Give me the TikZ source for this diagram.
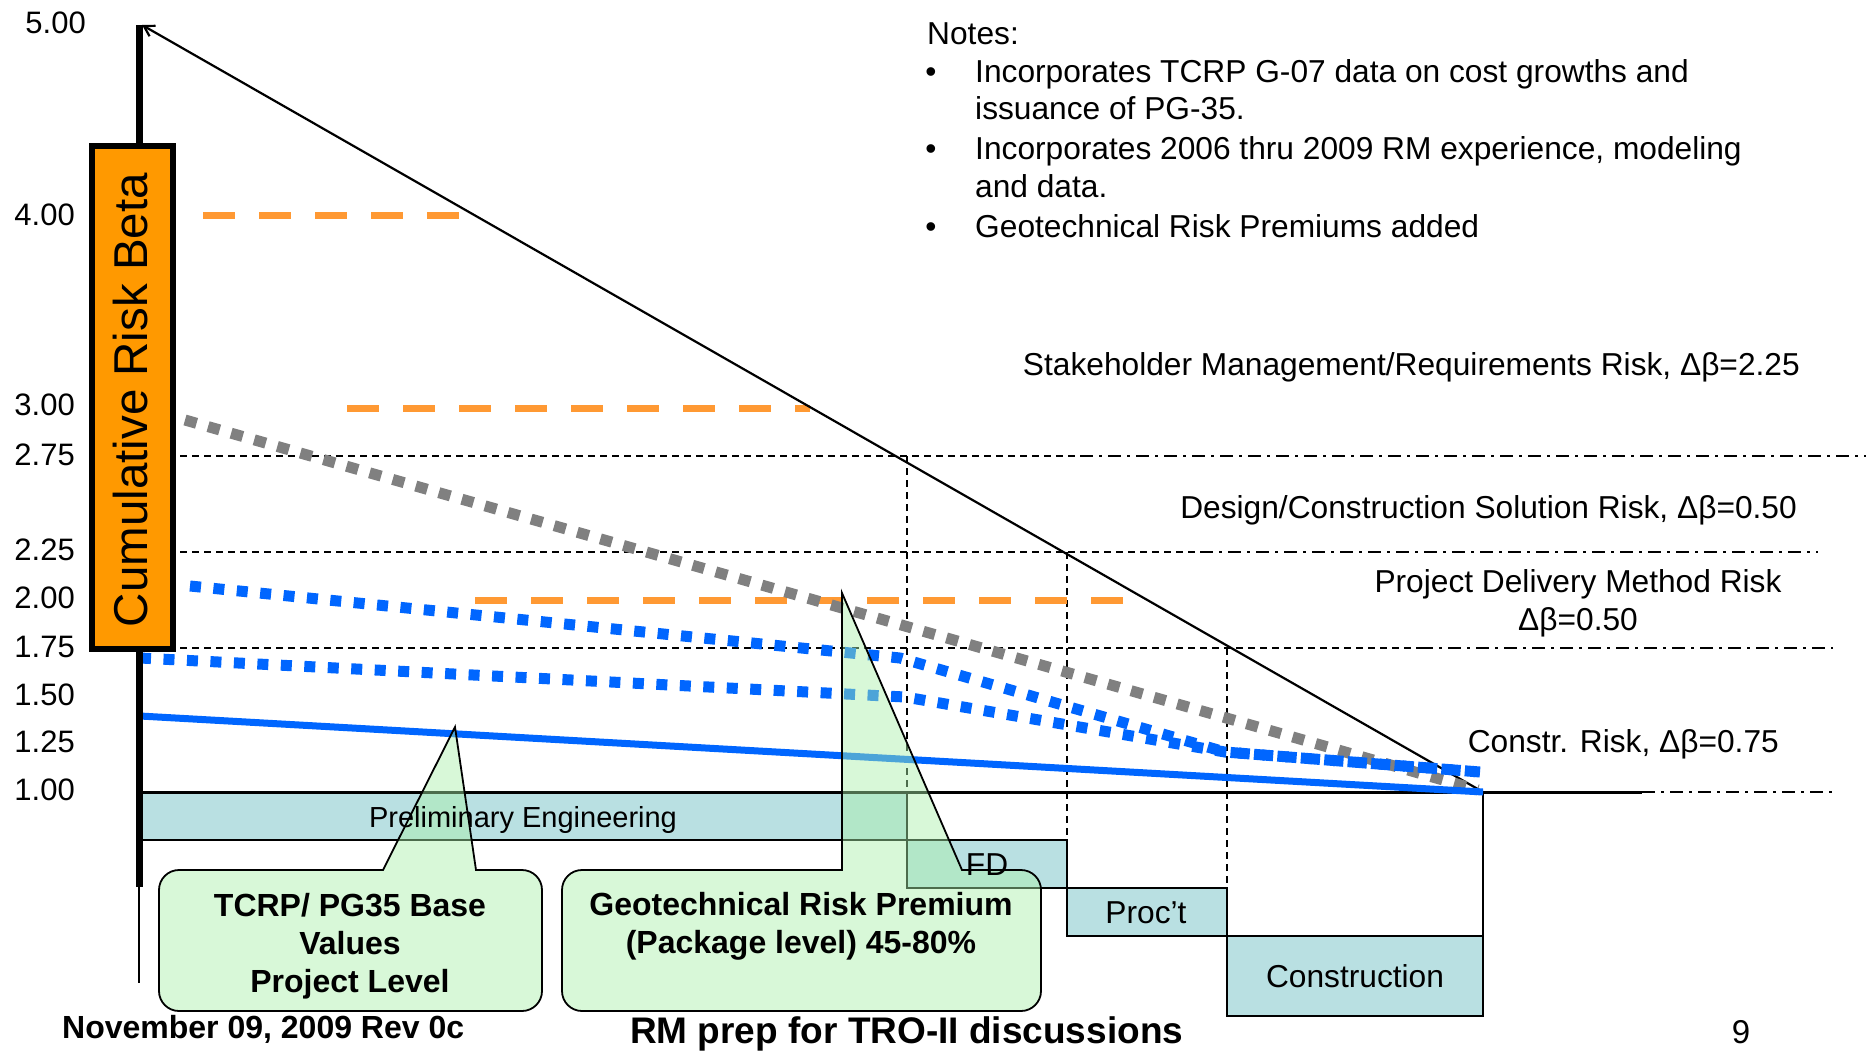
\documentclass[tikz,border=0pt]{standalone}
\usepackage{fontspec}
\setmainfont{Liberation Sans}
\usetikzlibrary{arrows.meta}
\definecolor{obox}{RGB}{255,153,0}
\definecolor{odash}{RGB}{255,153,51}
\definecolor{bline}{RGB}{0,102,255}
\definecolor{gline}{RGB}{128,128,128}
\definecolor{barfill}{RGB}{185,224,226}
\definecolor{callg}{RGB}{170,240,170}
\begin{document}
\begin{tikzpicture}[x=1pt,y=-1pt,
  tick/.style={font=\fontsize{31}{37}\selectfont, anchor=east, inner sep=0pt},
  txt/.style={font=\fontsize{31.7}{38}\selectfont, inner sep=0pt},
  btxt/.style={font=\bfseries\fontsize{32}{38}\selectfont, inner sep=0pt},
  refdash/.style={line width=1.6, dash pattern=on 7 off 5},
  refdashdot/.style={line width=1.6, dash pattern=on 13 off 6 on 3 off 6},
  odashed/.style={odash, line width=7, dash pattern=on 32 off 24},
  bdots/.style={bline, line width=11, dash pattern=on 11 off 12.5},
  gdots/.style={gline, line width=11, dash pattern=on 12 off 12},
  barbox/.style={fill=barfill, draw=black, line width=2.5},
  callout/.style={fill=callg, fill opacity=0.45, draw=black, line width=1.8}]
\useasboundingbox (0,0) rectangle (1876,1051);
\fill[white] (0,0) rectangle (1876,1051);

% key coordinates
\coordinate (top) at (142,25);
\coordinate (apex) at (1483,792);

% reference lines
\draw[refdash] (180,456) -- (1080,456);
\draw[refdashdot] (1080,456) -- (1866,456);
\draw[refdash] (180,552) -- (1200,552);
\draw[refdashdot] (1200,552) -- (1818,552);
\draw[refdash] (180,648) -- (1420,648);
\draw[refdashdot] (1420,648) -- (1833,648);
\draw[refdash] (907,456) -- (907,792);
\draw[refdash] (1067,552) -- (1067,840);
\draw[refdash] (1227,648) -- (1227,888);

% orange dashed levels
\draw[odashed] (203,216) -- (459,216);
\draw[odashed] (347,408) -- (810,408);
\draw[odashed] (475,600) -- (1123,600);

% phase bars
\draw[barbox] (139,792) rectangle (907,840);
\draw[barbox] (907,840) rectangle (1067,888);
\draw[barbox] (1067,888) rectangle (1227,936);
\draw[barbox] (1227,936) rectangle (1483,1016);
\draw[line width=2.5] (1483,792) -- (1483,936);

% baseline 1.00
\draw[line width=3] (139,792) -- (1642,792);
\draw[refdashdot] (1642,792) -- (1835,792);

% risk envelope
\draw[line width=2.2, -{Straight Barb[length=10,width=12]}] (apex) -- (top);

% curves
\draw[gdots] (185,420) -- (1478,790);
\draw[bdots] (190,586) -- (900,658) -- (1225,752) -- (1480,772);
\draw[bdots] (140,658) -- (905,697) -- (1225,752) -- (1480,772);
\draw[bline, line width=7] (140,716) -- (apex);

% axis
\draw[line width=7] (139,25) -- (139,887);
\draw[line width=2.5] (139,887) -- (139,983);

% axis title box
\draw[fill=obox, line width=6] (92,146) rectangle (173,649);
\node[font=\fontsize{47.5}{55}\selectfont, inner sep=0pt, rotate=90] (ytitle) at (131,400) {Cumulative Risk Beta};

% tick labels
\node[tick] (t500) at (86,23) {5.00};
\node[tick] (t400) at (75,215) {4.00};
\node[tick] (t300) at (75,405) {3.00};
\node[tick] (t275) at (75,455) {2.75};
\node[tick] (t225) at (75,550) {2.25};
\node[tick] (t200) at (75,598) {2.00};
\node[tick] (t175) at (75,647) {1.75};
\node[tick] (t150) at (75,695) {1.50};
\node[tick] (t125) at (75,742) {1.25};
\node[tick] (t100) at (75,790) {1.00};

% callouts
\draw[callout] (383,870) -- (455,727) -- (476,870) -- (522,870)
  arc[start angle=270, end angle=360, radius=20] -- (542,991)
  arc[start angle=0, end angle=90, radius=20] -- (179,1011)
  arc[start angle=90, end angle=180, radius=20] -- (159,890)
  arc[start angle=180, end angle=270, radius=20] -- cycle;
\draw[callout] (842,870) -- (842,593) -- (962,870) -- (1021,870)
  arc[start angle=270, end angle=360, radius=20] -- (1041,991)
  arc[start angle=0, end angle=90, radius=20] -- (582,1011)
  arc[start angle=90, end angle=180, radius=20] -- (562,890)
  arc[start angle=180, end angle=270, radius=20] -- cycle;

\node[btxt, anchor=base] (c1a) at (350,916) {TCRP/ PG35 Base};
\node[btxt, anchor=base] (c1b) at (350,954) {Values};
\node[btxt, anchor=base] (c1c) at (350,992) {Project Level};
\node[btxt, anchor=base] (c2a) at (801,915) {Geotechnical Risk Premium};
\node[btxt, anchor=base] (c2b) at (801,953) {(Package level) 45-80\%};

% bar labels
\node[txt, font=\fontsize{29}{35}\selectfont, anchor=base] (pe) at (523,827) {Preliminary Engineering};
\node[txt, anchor=base] (fd) at (987,875) {FD};
\node[txt, anchor=base] (pr) at (1146,923) {Proc’t};
\node[txt, anchor=base] (co) at (1355,987) {Construction};

% notes
\node[txt, anchor=base west] (notes) at (927,45) {Notes:};
\node[txt, anchor=base] (b1) at (931,83) {•};
\node[txt, anchor=base] (b2) at (931,160) {•};
\node[txt, anchor=base] (b3) at (931,237) {•};
\node[txt, anchor=base west] (n1a) at (975,83) {Incorporates TCRP G-07 data on cost growths and};
\node[txt, anchor=base west] (n1b) at (975,120) {issuance of PG-35.};
\node[txt, anchor=base west] (n2a) at (975,160) {Incorporates 2006 thru 2009 RM experience, modeling};
\node[txt, anchor=base west] (n2b) at (975,197) {and data.};
\node[txt, anchor=base west] (n3) at (975,237) {Geotechnical Risk Premiums added};

% risk labels
\node[txt, anchor=base east] (r1) at (1800,375) {Stakeholder Management/Requirements Risk, Δβ=2.25};
\node[txt, anchor=base east] (r2) at (1797,518) {Design/Construction Solution Risk, Δβ=0.50};
\node[txt, anchor=base] (r3a) at (1578,592) {Project Delivery Method Risk};
\node[txt, anchor=base] (r3b) at (1578,630) {Δβ=0.50};
\node[txt, anchor=base east] (r4) at (1779,752) {Constr. Risk, Δβ=0.75};

% footer
\node[btxt, anchor=base west] (date) at (62,1038) {November 09, 2009 Rev 0c};
\node[font=\bfseries\fontsize{37}{44}\selectfont, inner sep=0pt, anchor=base west] (title) at (630,1043) {RM prep for TRO-II discussions};
\node[font=\fontsize{33}{40}\selectfont, inner sep=0pt, anchor=base] (page) at (1741,1043) {9};
\end{tikzpicture}
\end{document}
